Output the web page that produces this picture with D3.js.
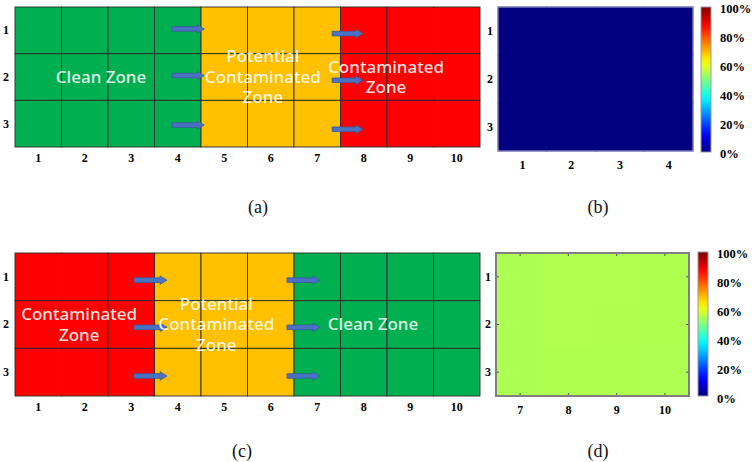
<!DOCTYPE html>
<html><head><meta charset="utf-8">
<script src="https://cdn.jsdelivr.net/npm/d3@7"></script>
<style>body{margin:0;background:#fff}svg{display:block}</style>
</head><body>
<svg id="c" width="752" height="462"></svg>
<script>
// ---------- data ----------
const gridCols = [1,2,3,4,5,6,7,8,9,10];
const gridRows = [1,2,3];
const zonesA = ["clean","clean","clean","clean","potential","potential","potential","contaminated","contaminated","contaminated"];
const zonesC = ["contaminated","contaminated","contaminated","potential","potential","potential","clean","clean","clean","clean"];
// arrows: [startCol, endCol, row] in column/row units
const arrowsA = [[3.88,4.57,0.97],[3.88,4.57,1.97],[3.88,4.57,3.03],[7.32,7.98,1.07],[7.32,7.98,2.07],[7.32,7.98,3.12]];
const arrowsC = [[3.06,3.77,1.07],[3.06,3.77,2.06],[3.06,3.77,3.08],[6.35,7.06,1.07],[6.35,7.06,2.06],[6.35,7.06,3.08]];
const labelsA = [{text:["Clean Zone"], col:2.35, row:2.0},
                 {text:["Potential","Contaminated","Zone"], col:5.83, row:2.0},
                 {text:["Contaminated","Zone"], col:8.48, row:2.0}];
const labelsC = [{text:["Contaminated","Zone"], col:1.88, row:2.0},
                 {text:["Potential","Contaminated","Zone"], col:4.83, row:2.0},
                 {text:["Clean Zone"], col:8.2, row:2.0}];
const colsB = [1,2,3,4];
const valuesB = [[0,0,0,0],[0,0,0,0],[0,0,0,0]];
const colsD = [7,8,9,10];
const valuesD = [[0.545,0.549,0.549,0.547],[0.545,0.549,0.548,0.547],[0.545,0.547,0.547,0.546]];
const cbTicks = [0,0.2,0.4,0.6,0.8,1.0];
const captions = ["(a)","(b)","(c)","(d)"];

// ---------- styles ----------
const zoneColor = {clean:"#00b050", potential:"#ffc000", contaminated:"#ff0000"};
const svg = d3.select("#c");
const clamp = v => Math.max(0, Math.min(1, v));
function jet(v){
  const r = clamp(1.5-Math.abs(4*v-3)), g = clamp(1.5-Math.abs(4*v-2)), b = clamp(1.5-Math.abs(4*v-1));
  return d3.rgb(r*255, g*255, b*255).toString();
}
const axisFont = "Liberation Serif, Times New Roman, serif";

function zoneGrid(zones, arrows, labels, y0, y1){
  const g = svg.append("g");
  const x = d3.scaleBand().domain(gridCols).range([15,480]);
  const y = d3.scaleBand().domain(gridRows).range([y0,y1]);
  const xl = d3.scaleLinear().domain([0.5,10.5]).range([15,480]);
  const yl = d3.scaleLinear().domain([0.5,3.5]).range([y0,y1]);
  const cells = [];
  gridRows.forEach(r => gridCols.forEach((c,i) => cells.push({r,c,z:zones[i]})));
  g.selectAll("rect.cell").data(cells).join("rect")
    .attr("x", d=>x(d.c)).attr("y", d=>y(d.r))
    .attr("width", x.bandwidth()).attr("height", y.bandwidth())
    .attr("fill", d=>zoneColor[d.z]).attr("stroke","#2a2a2a").attr("stroke-width",0.9);
  // arrows
  g.selectAll("path.arrow").data(arrows).join("path")
    .attr("d", d=>{
      const xa = xl(d[0]), xb = xl(d[1]), yc = yl(d[2]);
      const hl = 7, sh = 2.3, hh = 4.2;
      return `M${xa},${yc-sh}L${xb-hl},${yc-sh}L${xb-hl},${yc-hh}L${xb},${yc}L${xb-hl},${yc+hh}L${xb-hl},${yc+sh}L${xa},${yc+sh}Z`;
    })
    .attr("fill","#4a72c4").attr("stroke","#3a5a9c").attr("stroke-width",0.8);
  // zone labels
  labels.forEach(L => {
    const n = L.text.length;
    const t = g.append("text").attr("text-anchor","middle")
      .attr("font-family","Noto Sans, Open Sans, sans-serif").attr("font-size",17).attr("font-weight",500)
      .attr("fill","rgba(255,255,255,0.88)");
    L.text.forEach((s,i)=>{
      t.append("tspan").attr("x", xl(L.col)).attr("y", yl(L.row) + (i-(n-1)/2)*20.5).attr("dy","0.35em").text(s);
    });
  });
  // axes
  const ax = g.append("g").attr("transform",`translate(0,${y1})`)
    .call(d3.axisBottom(x).tickSize(0).tickPadding(6));
  const ay = g.append("g").attr("transform",`translate(15,0)`)
    .call(d3.axisLeft(y).tickSize(0).tickPadding(6));
  [ax,ay].forEach(a=>{
    a.select(".domain").remove();
    a.selectAll("text").attr("font-family",axisFont).attr("font-weight","bold").attr("font-size",12).attr("fill","#000");
  });
}

function heatPanel(cols, values, px0, px1, py0, py1, cb, border, ticksInside){
  const g = svg.append("g");
  const x = d3.scaleBand().domain(cols).range([px0,px1]);
  const y = d3.scaleBand().domain(gridRows).range([py0,py1]);
  const color = d3.scaleSequential(jet).domain([0,1]);
  const cells = [];
  gridRows.forEach((r,ri) => cols.forEach((c,ci) => cells.push({r,c,v:values[ri][ci]})));
  g.selectAll("rect.cell").data(cells).join("rect")
    .attr("x", d=>x(d.c)).attr("y", d=>y(d.r))
    .attr("width", x.bandwidth()).attr("height", y.bandwidth())
    .attr("fill", d=>color(d.v)).attr("stroke", d=>color(d.v)).attr("stroke-width",1);
  if (ticksInside){
    const tk = (axis, tr) => g.append("g").attr("transform",tr).call(axis.tickSize(-3).tickFormat(""))
      .call(s=>{s.select(".domain").remove(); s.selectAll("line").attr("stroke","#555");});
    tk(d3.axisBottom(x), `translate(0,${py1})`);
    tk(d3.axisTop(x), `translate(0,${py0})`);
    tk(d3.axisLeft(y), `translate(${px0},0)`);
    tk(d3.axisRight(y), `translate(${px1},0)`);
  }
  g.append("rect").attr("x",px0).attr("y",py0).attr("width",px1-px0).attr("height",py1-py0)
    .attr("fill","none").attr("stroke",border.c).attr("stroke-width",border.w);
  const ax = g.append("g").attr("transform",`translate(0,${py1})`)
    .call(d3.axisBottom(x).tickSize(0).tickPadding(9));
  const ay = g.append("g").attr("transform",`translate(${px0},0)`)
    .call(d3.axisLeft(y).tickSize(0).tickPadding(5));
  [ax,ay].forEach(a=>{
    a.select(".domain").remove();
    a.selectAll("text").attr("font-family",axisFont).attr("font-weight","bold").attr("font-size",12).attr("fill","#000");
  });
  // colorbar
  const gid = "jet" + Math.round(py0);
  const grad = svg.append("defs").append("linearGradient").attr("id",gid)
    .attr("x1","0").attr("y1","1").attr("x2","0").attr("y2","0");
  d3.range(0,1.0001,0.05).forEach(t => grad.append("stop").attr("offset",t).attr("stop-color",jet(t)));
  g.append("rect").attr("x",cb.x0).attr("y",cb.y0).attr("width",cb.x1-cb.x0).attr("height",cb.y1-cb.y0)
    .attr("fill",`url(#${gid})`).attr("stroke","#9a9aa6").attr("stroke-width",1);
  const cs = d3.scaleLinear().domain([0,1]).range([cb.ly1, cb.ly0]);
  const ac = g.append("g").attr("transform",`translate(${cb.x1+9},0)`)
    .call(d3.axisRight(cs).tickValues(cbTicks).tickFormat(d3.format(".0%")).tickSize(0).tickPadding(0));
  ac.select(".domain").remove();
  ac.selectAll("text").attr("font-family",axisFont).attr("font-weight","bold").attr("font-size",12.5).attr("fill","#000");
}

zoneGrid(zonesA, arrowsA, labelsA, 7, 147);
zoneGrid(zonesC, arrowsC, labelsC, 253, 396);
heatPanel(colsB, valuesB, 498, 693, 7, 151, {x0:701,x1:711,y0:7,y1:152,ly0:8,ly1:153}, {c:"#b4b4cc",w:1}, false);
heatPanel(colsD, valuesD, 496, 689, 253, 396, {x0:698,x1:708,y0:252,y1:396,ly0:253,ly1:398}, {c:"#7f7f7f",w:2}, true);

// captions
const capPos = [[258,207],[598,207],[242,451],[598,451]];
svg.selectAll("text.cap").data(captions).join("text").attr("class","cap")
  .attr("x",(d,i)=>capPos[i][0]).attr("y",(d,i)=>capPos[i][1]).attr("dy","0.35em")
  .attr("text-anchor","middle").attr("font-family",axisFont).attr("font-size",18).attr("fill","#111")
  .text(d=>d);
</script>
</body></html>
